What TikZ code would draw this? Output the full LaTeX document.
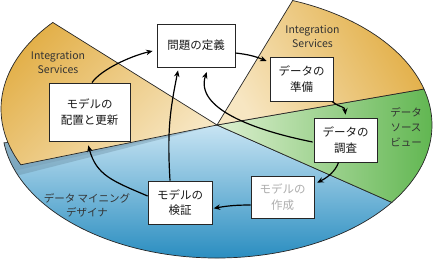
\documentclass[tikz,border=0pt]{standalone}
\usepackage{fontspec}
\setmainfont{Noto Sans CJK JP}
\usetikzlibrary{arrows.meta,calc}
\definecolor{orDark}{HTML}{E2AE45}
\definecolor{orLight}{HTML}{F7E6C2}
\definecolor{grDark}{HTML}{5CB44C}
\definecolor{grLight}{HTML}{DCEFCF}
\definecolor{blDark}{HTML}{2088BD}
\definecolor{blLight}{HTML}{C8E4F3}
\definecolor{shadowc}{HTML}{5D7F93}
\definecolor{lblc}{HTML}{333333}
\begin{document}
\begin{tikzpicture}[x=1bp,y=1bp,
  box/.style={draw=black!85, fill=white, line width=0.8bp, inner sep=0pt, align=center,
    font=\fontsize{11.5bp}{15.5bp}\selectfont, text=black!90},
  lbl/.style={align=center, font=\fontsize{10.5bp}{14bp}\selectfont, text=lblc},
  arr/.style={line width=1.2bp, -{Stealth[length=6.5bp,width=5.5bp]}},
  wedge/.style={draw=black!85, line width=0.7bp}]
\useasboundingbox (0,0) rectangle (433,260);
\coordinate (A) at (217,135);
\coordinate (O) at (216,151);

% blue wedge
\path[top color=blLight, bottom color=blDark]
  (A) -- ++(187.7:215 and 133) arc[start angle=187.7, end angle=324.4, x radius=215, y radius=133] -- cycle;
\begin{scope}
  \clip (A) -- ++(187.7:215 and 133) arc[start angle=187.7, end angle=324.4, x radius=215, y radius=133] -- cycle;
  \fill[shadowc, opacity=0.32] (A) -- (0,80) -- (0,140) -- cycle;
  \fill[shadowc, opacity=0.18] (A) -- (0,86) -- (0,140) -- cycle;
\end{scope}
\draw[wedge] (A) -- ++(187.7:215 and 133) arc[start angle=187.7, end angle=324.4, x radius=215, y radius=133] -- cycle;

% green wedge
\path[wedge, left color=grLight, right color=grDark]
  (A) -- ++(-35.6:215 and 133) arc[start angle=-35.6, end angle=15.7, x radius=215, y radius=133] -- cycle;

% right orange wedge
\path[wedge, top color=orDark, bottom color=orLight, shading angle=-60]
  (A) -- ++(15.7:215 and 133) arc[start angle=15.7, end angle=69.4, x radius=215, y radius=133] -- cycle;

% left orange wedge (lifted)
\path[wedge, top color=orDark, bottom color=orLight, shading angle=45]
  (A) -- ($(O)+(139.4:215 and 133)$) arc[start angle=139.4, end angle=204.8, x radius=215, y radius=133] -- cycle;

% wedge labels
\node[lbl] (is1) at (58,198) {Integration\\Services};
\node[lbl] (is2) at (312.5,223.5) {Integration\\Services};
\node[lbl, font=\fontsize{10.5bp}{15bp}\selectfont] (dsv) at (406,133.3) {データ\\ソース\\ビュー};
\node[lbl] (dmd) at (87,55) {データ マイニング\\デザイナ};

% boxes
\node[box, minimum width=78bp, minimum height=43bp] (def) at (196,214.5) {問題の定義};
\node[box, minimum width=63bp, minimum height=44bp] (prep) at (301.5,181) {データの\\準備};
\node[box, minimum width=63bp, minimum height=44bp] (expl) at (345.5,120) {データの\\調査};
\node[box, minimum width=63bp, minimum height=42bp, text=black!32] (build) at (282.5,63) {モデルの\\作成};
\node[box, minimum width=64bp, minimum height=43bp] (valid) at (180,57.5) {モデルの\\検証};
\node[box, minimum width=81bp, minimum height=58bp] (deploy) at (89.5,148) {モデルの\\配置と更新};

% arrows
\draw[arr] ([xshift=2.5bp]deploy.north) .. controls +(9,13) and +(-22,-5) .. ([xshift=-4bp,yshift=-5.5bp]def.west);
\draw[arr] ([yshift=-7.5bp]def.east) to[bend left=8] ([xshift=-3bp,yshift=18bp]prep.west);
\draw[arr] ([xshift=-1.5bp]prep.south east) .. controls +(9,-7) and +(-1,9) .. ([yshift=3bp]expl.north);
\draw[arr] ([xshift=-1bp,yshift=-2bp]expl.west) .. controls +(-60,12) and +(-12,-36) .. ([xshift=10.7bp,yshift=-4.7bp]def.south);
\draw[arr] ([xshift=-10bp]valid.north) .. controls +(-3,50) and +(-8,-40) .. ([xshift=-18bp,yshift=-3bp]def.south);
\draw[arr] ([yshift=6.5bp]valid.west) .. controls +(-35,15) and +(8,-30) .. ([xshift=-1.2bp,yshift=-4bp]deploy.south);
\draw[arr] ([yshift=-8bp]build.west) to[bend right=5] ([xshift=1.3bp,yshift=-5.8bp]valid.east);
\draw[arr] ([xshift=-7bp]expl.south) .. controls +(-3,-9) and +(10,5) .. ([xshift=2.7bp,yshift=14.3bp]build.east);
\end{tikzpicture}
\end{document}
